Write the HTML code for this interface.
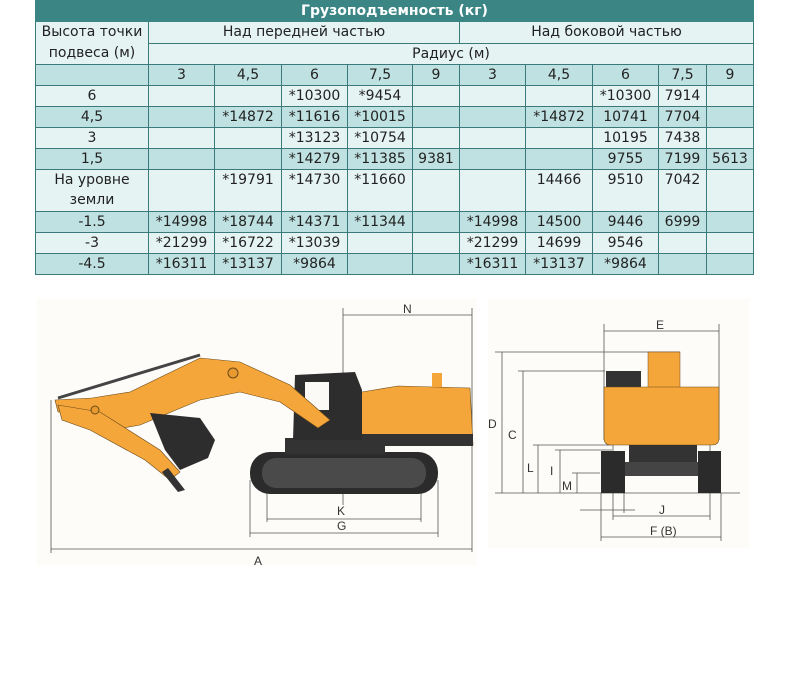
<!DOCTYPE html>
<html><head><meta charset="utf-8"><style>
body{margin:0;background:#fff;width:787px;height:697px;overflow:hidden;font-family:"DejaVu Sans","Liberation Sans",sans-serif;}
table{position:absolute;left:35px;top:0;border-collapse:collapse;font-size:14px;color:#222;table-layout:fixed;}
td{border:1px solid #3a7a7a;text-align:center;padding:0;height:20px;line-height:20px;white-space:nowrap;overflow:hidden}
.t{background:#3b8585;color:#fff;font-weight:bold;height:19px;border-color:#3b8585}
.l{background:#e5f3f3}.d{background:#c0e1e1}
</style></head><body>
<table>
<colgroup><col style="width:113px"><col style="width:66px"><col style="width:67px"><col style="width:66px"><col style="width:65px"><col style="width:47px"><col style="width:66px"><col style="width:67px"><col style="width:66px"><col style="width:48px"><col style="width:47px"></colgroup>
<tr><td class="t" colspan="11">Грузоподъемность (кг)</td></tr>
<tr class="l"><td rowspan="2" style="line-height:21px">Высота точки<br>подвеса (м)</td><td colspan="5">Над передней частью</td><td colspan="5">Над боковой частью</td></tr>
<tr class="l"><td colspan="10">Радиус (м)</td></tr>
<tr class="d"><td></td><td>3</td><td>4,5</td><td>6</td><td>7,5</td><td>9</td><td>3</td><td>4,5</td><td>6</td><td>7,5</td><td>9</td></tr>
<tr class="l"><td>6</td><td></td><td></td><td>*10300</td><td>*9454</td><td></td><td></td><td></td><td>*10300</td><td>7914</td><td></td></tr>
<tr class="d"><td>4,5</td><td></td><td>*14872</td><td>*11616</td><td>*10015</td><td></td><td></td><td>*14872</td><td>10741</td><td>7704</td><td></td></tr>
<tr class="l"><td>3</td><td></td><td></td><td>*13123</td><td>*10754</td><td></td><td></td><td></td><td>10195</td><td>7438</td><td></td></tr>
<tr class="d"><td>1,5</td><td></td><td></td><td>*14279</td><td>*11385</td><td>9381</td><td></td><td></td><td>9755</td><td>7199</td><td>5613</td></tr>
<tr class="l"><td style="height:41px;line-height:20px;vertical-align:top">На уровне<br>земли</td><td></td><td style="vertical-align:top">*19791</td><td style="vertical-align:top">*14730</td><td style="vertical-align:top">*11660</td><td></td><td></td><td style="vertical-align:top">14466</td><td style="vertical-align:top">9510</td><td style="vertical-align:top">7042</td><td></td></tr>
<tr class="d"><td>-1.5</td><td>*14998</td><td>*18744</td><td>*14371</td><td>*11344</td><td></td><td>*14998</td><td>14500</td><td>9446</td><td>6999</td><td></td></tr>
<tr class="l"><td>-3</td><td>*21299</td><td>*16722</td><td>*13039</td><td></td><td></td><td>*21299</td><td>14699</td><td>9546</td><td></td><td></td></tr>
<tr class="d"><td>-4.5</td><td>*16311</td><td>*13137</td><td>*9864</td><td></td><td></td><td>*16311</td><td>*13137</td><td>*9864</td><td></td><td></td></tr>
</table>
<svg width="787" height="697" style="position:absolute;left:0;top:0" font-family="Liberation Sans,sans-serif" font-size="12" fill="#333">
<rect x="37" y="298" width="440" height="268" fill="#fdfcf9"/>
<rect x="488" y="298" width="262" height="250" fill="#fdfcf9"/>
<g stroke="#555" stroke-width="0.8" fill="none">
<line x1="343" y1="315" x2="472" y2="315"/><line x1="343" y1="308" x2="343" y2="505"/><line x1="472" y1="308" x2="472" y2="552"/>
<line x1="51" y1="549" x2="472" y2="549"/><line x1="51" y1="400" x2="51" y2="553"/>
<line x1="250" y1="533" x2="438" y2="533"/><line x1="250" y1="480" x2="250" y2="537"/><line x1="438" y1="480" x2="438" y2="537"/>
<line x1="267" y1="519" x2="421" y2="519"/><line x1="267" y1="490" x2="267" y2="522"/><line x1="421" y1="490" x2="421" y2="522"/>
<line x1="604" y1="331" x2="719" y2="331"/><line x1="604" y1="324" x2="604" y2="440"/><line x1="719" y1="324" x2="719" y2="440"/>
<line x1="495" y1="352" x2="680" y2="352"/><line x1="502" y1="352" x2="502" y2="493"/>
<line x1="518" y1="371" x2="605" y2="371"/><line x1="523" y1="371" x2="523" y2="493"/>
<line x1="533" y1="445" x2="612" y2="445"/><line x1="538" y1="445" x2="538" y2="493"/>
<line x1="555" y1="450" x2="612" y2="450"/><line x1="560" y1="450" x2="560" y2="493"/>
<line x1="572" y1="473" x2="600" y2="473"/><line x1="577" y1="473" x2="577" y2="493"/>
<line x1="495" y1="493" x2="740" y2="493"/>
<line x1="613" y1="516" x2="710" y2="516"/><line x1="613" y1="445" x2="613" y2="520"/><line x1="710" y1="445" x2="710" y2="520"/>
<line x1="580" y1="510" x2="635" y2="510"/><line x1="624" y1="460" x2="624" y2="513"/>
<line x1="601" y1="537" x2="721" y2="537"/><line x1="601" y1="493" x2="601" y2="541"/><line x1="721" y1="493" x2="721" y2="541"/>
</g>
<text x="403" y="313">N</text><text x="254" y="565">A</text><text x="337" y="530">G</text><text x="337" y="515">K</text>
<text x="656" y="329">E</text><text x="488" y="428">D</text><text x="508" y="439">C</text><text x="527" y="472">L</text><text x="550" y="475">I</text><text x="562" y="490">M</text><text x="659" y="514">J</text><text x="650" y="535">F (B)</text>
<rect x="250" y="452" width="188" height="42" rx="20" fill="#2b2b2b"/>
<rect x="262" y="458" width="164" height="30" rx="14" fill="#4a4a4a"/>
<rect x="285" y="438" width="100" height="16" fill="#333"/>
<path d="M362 392 L398 386 L470 388 L473 445 L345 445 L345 400 Z" fill="#f4a63a" stroke="#6b4a1a" stroke-width="0.6"/>
<rect x="300" y="434" width="173" height="12" fill="#333"/>
<path d="M295 375 L355 372 L362 390 L362 440 L293 440 Z" fill="#2d2d2d"/>
<rect x="305" y="382" width="24" height="28" fill="#fbfaf6"/>
<rect x="432" y="373" width="10" height="14" fill="#f4a63a"/>
<path d="M55 400 L92 398 L130 392 L200 358 L240 362 L290 385 L330 420 L318 428 L280 402 L240 392 L200 400 L140 425 L112 430 L95 412 L58 412 Z" fill="#f4a63a" stroke="#6b4a1a" stroke-width="0.6"/>
<path d="M58 405 L100 412 L160 450 L180 472 L170 480 L145 460 L90 430 L62 420 Z" fill="#f4a63a" stroke="#6b4a1a" stroke-width="0.6"/>
<path d="M58 398 L200 355" stroke="#444" stroke-width="3"/>
<path d="M150 413 L200 418 L215 440 L208 458 L180 470 L165 450 Z" fill="#2d2d2d"/>
<circle cx="233" cy="373" r="5" fill="#e89a30" stroke="#6b4a1a"/>
<circle cx="95" cy="410" r="4" fill="#e89a30" stroke="#6b4a1a"/>
<path d="M168 468 L185 490 L178 492 L162 472 Z" fill="#333"/>
<rect x="648" y="352" width="32" height="36" fill="#f4a63a" stroke="#6b4a1a" stroke-width="0.5"/>
<rect x="606" y="371" width="35" height="18" fill="#333"/>
<path d="M604 387 L719 387 L719 438 Q719 445 712 445 L611 445 Q604 445 604 438 Z" fill="#f4a63a" stroke="#6b4a1a" stroke-width="0.6"/>
<rect x="629" y="445" width="68" height="20" fill="#333"/>
<rect x="622" y="462" width="80" height="14" fill="#444"/>
<rect x="601" y="451" width="24" height="42" fill="#2b2b2b"/>
<rect x="698" y="451" width="23" height="42" fill="#2b2b2b"/>
</svg>
</body></html>
